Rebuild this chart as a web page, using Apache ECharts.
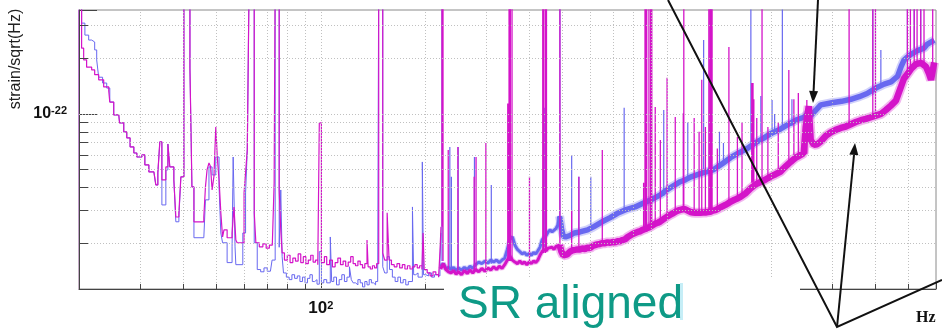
<!DOCTYPE html>
<html><head><meta charset="utf-8">
<script src="https://cdn.jsdelivr.net/npm/echarts@6/dist/echarts.min.js"></script>
<style>html,body{margin:0;padding:0;background:#fff}#c{width:942px;height:331px}</style>
</head><body><div id="c"></div>
<script>
// ---- values: strain amplitude in units of 1e-23 /sqrt(Hz); 60 = line running off the top ----
const UNIT_EXP = -23;
const X_MIN = 20, X_MAX = 6000;
const Y_MIN = 1.13, Y_MAX = 36.5;
const xGridVals = [30,40,50,60,70,80,90,100,200,300,400,500,600,700,800,900,1000,2000,3000,4000,5000];
const yGridVals = [2,3,4,5,6,7,8,9,10,20,30];
const xMinorTickVals = [30,40,50,60,70,80,90,200,300,400,500,600,700,800,900,2000,3000,4000,5000];
const yMinorTickVals = [2,3,4,5,6,7,8,9,20,30];
const xTickLabels = {'2': ['10','2']};
const yTickLabels = {'-22': ['10','-22']};

const magentaLow = [
[19.80,0.9],[19.85,60],[20.35,22.7],[20.63,19.6],[21.04,17.9],[21.76,17.3],[22.2,16.3],[22.8,15.3],[23.57,14.0],[24.38,13.3],[24.55,11.6],[25.2,9.88],[26.06,10.1],[26.2,8.94],[26.94,7.99],[27.49,7.42],[28.1,6.63],[28.81,6.15],[29.39,5.85],[30.4,6.0],[31.0,5.3],[31.84,4.86],[32.92,4.80],[33.35,4.13],[33.8,4.80],[34.25,7.06],[34.72,4.40],[35.65,5.17],[36.14,6.88],[36.6,5.17],[37.6,4.40],[38.1,2.77],[38.88,2.92],[39.4,4.57],[40.2,60],[41.85,17.7],[42.41,4.03],[42.98,2.61],
[45.9,2.77],[46.4,4.03],[46.9,4.98],[47.5,5.43],[48.0,5.2],[48.5,3.88],[49.1,4.6],[49.7,8.51],[50.2,5.85],[50.8,4.40],[51.4,2.92],[52.0,2.16],[52.5,2.36],[53.6,2.14],[55.4,2.27],[56.1,3.14],[56.8,2.08],[57.3,2.01],[60.0,3.74],[60.6,4.80],[61.3,6.39],[62.1,60],[64.2,2.92],[64.9,2.01],[66.4,1.91],[68.0,1.98],[69.5,1.88],[71.0,1.95],[72.4,1.91],[73.3,4.24],[73.8,60],[75.8,3.88],[76.6,2.36],[77.3,1.77],[78.5,1.62],[80.0,1.72],[81.5,1.57],[83.0,1.66],[84.5,1.60],[86.0,1.75],[87.5,1.57],[89.0,1.69],[90.5,1.55],[92.0,1.62],[93.5,1.72],[95.0,1.58],[96.5,1.62],[98.0,1.53],[99.0,8.94],[100.4,1.57],
[102.4,1.69],[104,1.53],[106,1.62],[108,1.49],[110,1.57],[112,1.66],[114,1.53],[116,1.60],[118,1.50],[120,1.58],[122,1.69],[124,1.55],[126,1.51],[128,1.60],[130,1.53],[132,1.47],[134,1.55],[136,2.08],[137,1.49],[139,1.45],[141,1.51],[143,1.47],[145,1.55],[147,60],[151,1.77],[153,1.62],[155.5,2.92],[157.5,1.62],[160,1.53],[163,1.49],[166,1.55],[169,1.47],[172,1.53],[175,1.45],[178,1.51],[181,1.45],[184,1.49],[187,1.53],[190,1.47],[193,1.51],[196,1.44],[197.5,2.27],[199,1.44],[203,1.38],[207,1.33],[211,1.40],[215,1.35],[219,1.31],[221,1.8],[222.5,2.45]
];
const blueLow = [
[19.80,0.9],[19.85,60],[20.35,31.0],[20.8,26.7],[21.33,25.1],[21.76,24.5],[22.2,22.2],[22.5,19.6],[22.8,15.8],[23.4,14.7],[24.05,13.8],[24.55,11.6],[25.2,9.88],[26.06,10.1],[26.2,8.94],[26.94,7.99],[27.49,7.42],[28.1,6.63],[28.81,6.15],[29.39,5.85],[30.4,6.0],[31.0,5.3],[31.84,4.86],[32.92,4.80],[33.35,4.13],[33.8,4.80],[34.25,7.06],[34.72,3.22],[35.65,4.98],[36.14,6.88],[36.6,5.17],[37.6,4.40],[38.1,2.61],[38.88,2.77],[39.4,4.57],[40.2,60],[41.85,17.7],[42.41,4.03],[42.98,2.14],
[45.9,2.14],[46.4,3.43],[47.5,5.17],[48.5,4.68],[49.7,5.85],[50.8,4.03],[51.4,2.27],[52.0,2.01],[53.6,1.57],[55.4,1.91],[55.8,5.85],[56.5,1.91],[56.8,1.53],[59.5,2.27],[60.6,3.74],[61.3,6.39],[62.1,60],[64.2,2.01],[65.5,1.44],[67,1.40],[68.5,1.47],[70,1.41],[71.5,1.44],[72.3,1.62],[73.8,60],[75.8,1.9],[76.6,3.88],[77.3,1.69],[78,1.38],[79.5,1.31],[81,1.27],[82.5,1.35],[84,1.29],[85.5,1.33],[87,1.24],[88.5,1.31],[90,1.22],[91.5,1.29],[93,1.35],[94.5,1.24],[96,1.27],[97.5,1.20],[99.0,1.8],[100.4,1.22],
[102,1.27],[104,1.22],[106.5,2.16],[107.5,1.24],[109,1.31],[111,1.19],[113,1.27],[115,1.35],[117,1.24],[119,1.31],[121,1.49],[122.5,1.27],[124,1.22],[126,1.19],[128,1.27],[130,1.22],[132,1.16],[134,1.24],[136,1.19],[138,1.27],[140,1.22],[142,1.19],[144,1.24],[146,1.27],[147,60],[151,1.49],[153,1.38],[155.5,1.69],[158,1.44],[161,1.31],[164,1.24],[167,1.31],[170,1.22],[173,1.27],[176,1.19],[179,1.24],[184,3.14],[185.5,1.35],[188,1.38],[191,1.31],[196.5,5.5],[198,1.35],[201,1.33],[205,1.38],[209,1.31],[213,1.35],[217,1.33],[221,1.6],[222.5,2.27]
];
const magentaBandMid = [[222,1.45],[226,1.55],[230,1.44],[234,1.40],[238,1.38],[242,1.42],[246,1.36],[250,1.40],[255,1.35],[260,1.42],[265,1.37],[270,1.43],[275,1.38],[280,1.44],[286,1.40],[292,1.46],[298,1.41],[304,1.47],[310,1.43],[316,1.49],[322,1.44],[328,1.50],[334,1.46],[340,1.53],[346,1.62],[352,1.70],[358,1.62],[364,1.58],[370,1.55],[376,1.60],[382,1.55],[388,1.58],[394,1.53],[400,1.58],[406,1.55],[412,1.60],[418,1.57],[424,1.62],[430,1.72],[436,1.80],[442,1.85],[448,1.82],[454,1.88],[460,1.84],[466,1.90],[472,1.85],[478,1.92],[484,1.88],[490,1.95]];
const magentaBandHigh = [[490,1.95],[496,1.80],[502,1.72],[508,1.70],[516,1.74],[525,1.80],[534,1.83],[543,1.84],[552,1.85],[561,1.85],[570,1.87],[580,1.86],[590,1.89],[600,1.88],[610,1.93],[620,1.95],[630,1.97],[641,1.98],[652,2.0],[663,2.0],[674,2.02],[686,2.01],[697,2.03],[709,2.02],[721,2.05],[733,2.05],[745,2.08],[758,2.1],[771,2.16],[784,2.2],[797,2.24],[810,2.27],[824,2.3],[838,2.32],[851,2.36],[864,2.38],[880,2.42],[895,2.45],[910,2.5],[926,2.55],[942,2.58],[958,2.62],[974,2.68],[990,2.74],[1007,2.8],[1024,2.85],[1041,2.9],[1058,2.95],[1076,3.0],[1094,3.03],[1112,3.05],[1131,3.05],[1150,3.0],[1170,2.95],[1190,2.93],[1209,2.92],[1230,2.92],[1250,2.92],[1271,2.93],[1293,2.93],[1315,2.95],[1337,2.96],[1360,3.0],[1382,3.02],[1405,3.07],[1429,3.12],[1453,3.17],[1477,3.22],[1502,3.28],[1528,3.35],[1553,3.4],[1579,3.45],[1606,3.5],[1633,3.56],[1661,3.64],[1689,3.72],[1717,3.83],[1746,3.95],[1775,4.05],[1805,4.15],[1835,4.22],[1866,4.28],[1898,4.35],[1930,4.42],[1962,4.5],[1995,4.58],[2029,4.65],[2063,4.72],[2098,4.8],[2133,4.88],[2169,5.05],[2206,5.2],[2243,5.35],[2280,5.5],[2319,5.65],[2358,5.8],[2398,5.9],[2438,6.0],[2488,6.15],[2521,8.5],[2572,11.0],[2606,7.24],[2660,6.8],[2720,6.85],[2786,7.1],[2880,7.6],[2978,7.95],[3079,8.2],[3184,8.4],[3292,8.55],[3404,8.8],[3519,9.05],[3638,9.25],[3762,9.4],[3890,9.6],[4021,9.8],[4157,10.0],[4298,10.5],[4444,11.1],[4595,11.8],[4751,14.0],[4845,15.5],[4978,16.6],[5078,17.5],[5251,18.6],[5430,18.9],[5614,18.0],[5728,16.5],[5805,15.3],[5928,19.0]];
const blueBandMid = [[222,1.50],[226,1.55],[230,1.45],[234,1.48],[238,1.44],[242,1.48],[246,1.42],[250,1.47],[255,1.43],[260,1.48],[265,1.44],[270,1.50],[275,1.46],[280,1.53],[286,1.58],[292,1.55],[298,1.60],[304,1.56],[310,1.62],[316,1.58],[322,1.62],[328,1.57],[334,1.62],[340,1.66],[346,1.85],[352,2.10],[358,2.16],[364,1.95],[370,1.85],[376,1.80],[382,1.75],[388,1.78],[394,1.72],[400,1.76],[406,1.72],[412,1.78],[418,1.75],[424,1.82],[430,1.90],[436,2.08],[442,2.15],[448,2.20],[454,2.30],[460,2.36],[466,2.30],[472,2.32],[478,2.40],[484,2.50],[490,2.8]];
const blueBandHigh = [[490,2.8],[496,2.4],[502,2.18],[510,2.16],[525,2.20],[540,2.27],[561,2.30],[590,2.36],[614,2.45],[650,2.61],[686,2.75],[720,2.9],[767,3.05],[810,3.14],[857,3.3],[900,3.43],[958,3.65],[1000,3.88],[1047,4.1],[1094,4.3],[1131,4.40],[1170,4.55],[1250,4.75],[1367,5.0],[1450,5.4],[1528,5.8],[1600,6.1],[1708,6.5],[1800,6.97],[1906,7.4],[2000,7.85],[2133,8.3],[2250,8.8],[2375,9.3],[2490,9.6],[2550,10.0],[2606,9.8],[2660,10.2],[2786,11.2],[3000,11.5],[3200,11.7],[3404,12.0],[3600,12.4],[3792,12.9],[4021,13.8],[4250,14.5],[4450,14.9],[4647,16.0],[4750,17.9],[4845,19.5],[4960,20.3],[5078,21.0],[5300,22.0],[5543,22.7],[5657,23.8],[5800,24.5],[5930,25.1]];
// [frequency, floor, peak]
const magentaSpikes = [[224,2.45,60],[225.5,1.6,60],[233.5,1.44,6.39],[249,1.40,6.63],[277.5,1.42,4.57],[281,1.42,5.85],[300,1.45,6.97],[347,1.6,11.4],[350,1.6,60],[353,1.6,60],[357,1.6,60],[401,1.55,4.57],[438,1.77,60],[441,1.77,60],[446,1.77,60],[449,1.85,60],[491,1.9,60],[531,1.84,3.0],[557,1.84,4.57],[651,2.01,6.39],[857,2.27,4.24],[865,2.3,60],[870,2.3,60],[875,2.3,60],[888,2.4,60],[898,2.45,60],[905,2.45,60],[926,2.45,10.9],[958,2.74,7.24],[1002,2.8,15.7],[1058,3.03,9.63],[1116,3.0,10.1],[1120,3.1,60],[1200,2.92,9.5],[1240,2.92,8.0],[1262,2.92,15.3],[1293,2.92,8.51],[1323,2.92,60],[1335,2.92,60],[1345,2.92,60],[1352,2.92,60],[1400,3.1,6.5],[1512,3.4,23.0],[1600,3.5,7.5],[1650,3.6,9.0],[1760,4.24,14.7],[1775,4.24,14.7],[1785,4.3,12],[1820,4.3,9.5],[1885,4.5,60],[1960,4.6,8.5],[2100,5.0,9.0],[2253,5.6,17.3],[2330,5.7,12],[2400,6.0,13],[2540,6.1,11.9],[3365,8.5,60],[3940,9.6,60],[4010,9.88,60],[4960,15.5,60],[5060,16.5,60],[5190,18.9,60],[5290,18.9,60],[5420,18.9,60],[5540,18.9,60],[5870,16,60]];
const blueSpikes = [[224,1.6,60],[236,1.45,6.63],[238.5,1.45,4.57],[249.5,1.45,6.63],[278,1.5,5.85],[311,1.55,4.13],[352,2.1,60],[444,1.9,10.8],[491,2.5,60],[531,2.2,6.0],[557,2.27,4.57],[603,2.36,4.57],[753,2.92,10.8],[980,3.6,10.5],[1150,4.4,9.0],[1278,4.86,25.1],[1340,4.86,60],[1420,5.2,8.0],[1458,5.5,6.97],[1750,6.5,60],[1870,7.0,12.5],[2015,7.6,11.9],[2050,7.8,10],[2158,8.3,60],[2300,8.6,12],[3940,12.7,60],[4157,14,22.2],[4960,20.0,60],[5190,22.7,60],[5420,22.7,60]];

// ---- build ----
const BLUE = '#6868f0', MAG = '#d414c9';
const spikeData = a => { const o = []; a.forEach(([f, b, p]) => { o.push([f, b], [f, p], [f, '-']); }); return o; };

const gridLines = [];
xGridVals.forEach(v => gridLines.push({ xAxis: v }));
yGridVals.forEach(v => gridLines.push({ yAxis: v }));
const tickStyle = { color: '#444', type: 'solid', width: 1 };
const tickSegs = [];
yMinorTickVals.forEach(v => tickSegs.push([{ coord: [X_MIN, v], lineStyle: tickStyle }, { coord: [X_MIN * 1.062, v] }]));
xMinorTickVals.forEach(v => tickSegs.push([{ coord: [v, Y_MIN], lineStyle: tickStyle }, { coord: [v, Y_MIN * 1.065] }]));

const chart = echarts.init(document.getElementById('c'), null, { renderer: 'canvas' });
const font = '"Liberation Sans", Arial, sans-serif';
function sup(map, key) {
  const p = map[key];
  return p ? '{b|' + p[0] + '}{s|' + p[1] + '}' : '';
}
const decade = v => { const e = Math.log10(v); return Math.abs(e - Math.round(e)) < 1e-6 ? Math.round(e) : null; };
const richX = { b: { fontSize: 17, fontWeight: 'bold', fontFamily: font, color: '#111' }, s: { fontSize: 11, fontWeight: 'bold', fontFamily: font, color: '#111', verticalAlign: 'top' } };
const richY = { b: { fontSize: 16, fontWeight: 'bold', fontFamily: font, color: '#111' }, s: { fontSize: 11, fontWeight: 'bold', fontFamily: font, color: '#111', verticalAlign: 'top' } };

const line = (name, data, color, width, z, step, opacity) => ({
  name, type: 'line', data, symbol: 'none', step: step || false, z,
  lineStyle: { color, width, opacity: opacity == null ? 1 : opacity }, itemStyle: { color }, clip: true, silent: true
});

chart.setOption({
  animation: false,
  backgroundColor: '#fff',
  grid: { left: 79, right: 6, top: 10, bottom: 42, show: true, borderColor: '#8a8a8a', borderWidth: 1 },
  xAxis: {
    type: 'log', logBase: 10, min: X_MIN, max: X_MAX,
    axisLine: { show: true, lineStyle: { color: '#444', width: 1 } },
    axisTick: { show: true, inside: true, length: 7, lineStyle: { color: '#444' } },
    axisLabel: { margin: 11, formatter: v => { const e = decade(v); return e === null ? '' : sup(xTickLabels, String(e)); }, rich: richX },
    splitLine: { show: false }
  },
  yAxis: {
    type: 'log', logBase: 10, min: Y_MIN, max: Y_MAX,
    axisLine: { show: true, lineStyle: { color: '#444', width: 1 } },
    axisTick: { show: true, inside: true, length: 18, lineStyle: { color: '#444' } },
    axisLabel: { margin: 12, formatter: v => { const e = decade(v); return e === null ? '' : sup(yTickLabels, String(e + UNIT_EXP)); }, rich: richY },
    splitLine: { show: false }
  },
  series: [
    { type: 'line', data: [], z: 1, silent: true,
      markLine: { silent: true, symbol: ['none', 'none'], animation: false, label: { show: false },
        lineStyle: { color: '#c0c0c0', type: [1, 2], width: 1 },
        data: gridLines.concat(tickSegs) } },
    line('blueLow', blueLow, BLUE, 1, 3, 'end'),
    line('blueBandMidHalo', blueBandMid, BLUE, 5, 3, false, 0.3),
    line('blueBandMid', blueBandMid, BLUE, 3, 3),
    line('blueBandHighHalo', blueBandHigh, BLUE, 9, 3, false, 0.3),
    line('blueBandHigh', blueBandHigh, BLUE, 5.5, 3),
    line('blueSpikes', spikeData(blueSpikes), BLUE, 1.2, 3),
    line('magentaLow', magentaLow, MAG, 1.2, 4, 'end'),
    line('magentaBandMidHalo', magentaBandMid, MAG, 5, 4, false, 0.3),
    line('magentaBandMid', magentaBandMid, MAG, 3, 4),
    line('magentaBandHighHalo', magentaBandHigh, MAG, 10, 4, false, 0.3),
    line('magentaBandHigh', magentaBandHigh, MAG, 6.5, 4),
    line('magentaSpikes', spikeData(magentaSpikes), MAG, 1.3, 4)
  ],
  graphic: [
    { type: 'text', x: 16, y: 59, rotation: Math.PI / 2, z: 50,
      style: { text: 'strain/sqrt(Hz)', fontSize: 16, fontFamily: font, fill: '#222', textAlign: 'center', textVerticalAlign: 'middle' } },
    { type: 'rect', shape: { x: 444, y: 277, width: 356, height: 54 }, style: { fill: '#fff' }, z: 100 },
    { type: 'rect', shape: { x: 680, y: 283, width: 3, height: 37 }, style: { fill: '#c6eef7' }, z: 101 },
    { type: 'text', x: 458, y: 305, z: 101,
      style: { text: 'SR aligned', fontSize: 46, fontFamily: font, fill: '#0e9a86', textAlign: 'left', textVerticalAlign: 'middle' } },
    { type: 'text', x: 916, y: 318, z: 101,
      style: { text: 'Hz', fontSize: 16, fontWeight: 'bold', fontFamily: '"Liberation Serif", "Times New Roman", serif', fill: '#111', textAlign: 'left', textVerticalAlign: 'middle' } },
    { type: 'polyline', shape: { points: [[668, 0], [837, 327], [942, 280]] }, style: { stroke: '#111', lineWidth: 2, fill: null }, z: 102 },
    { type: 'line', shape: { x1: 837, y1: 327, x2: 854, y2: 155 }, style: { stroke: '#111', lineWidth: 2 }, z: 102 },
    { type: 'polygon', shape: { points: [[855, 143], [858.3, 155.3], [849.3, 154.5]] }, style: { fill: '#111' }, z: 102 },
    { type: 'line', shape: { x1: 818, y1: 0, x2: 813.6, y2: 91 }, style: { stroke: '#111', lineWidth: 2 }, z: 102 },
    { type: 'polygon', shape: { points: [[813, 103], [818.1, 91.2], [809.1, 90.8]] }, style: { fill: '#111' }, z: 102 }
  ]
});
</script></body></html>
